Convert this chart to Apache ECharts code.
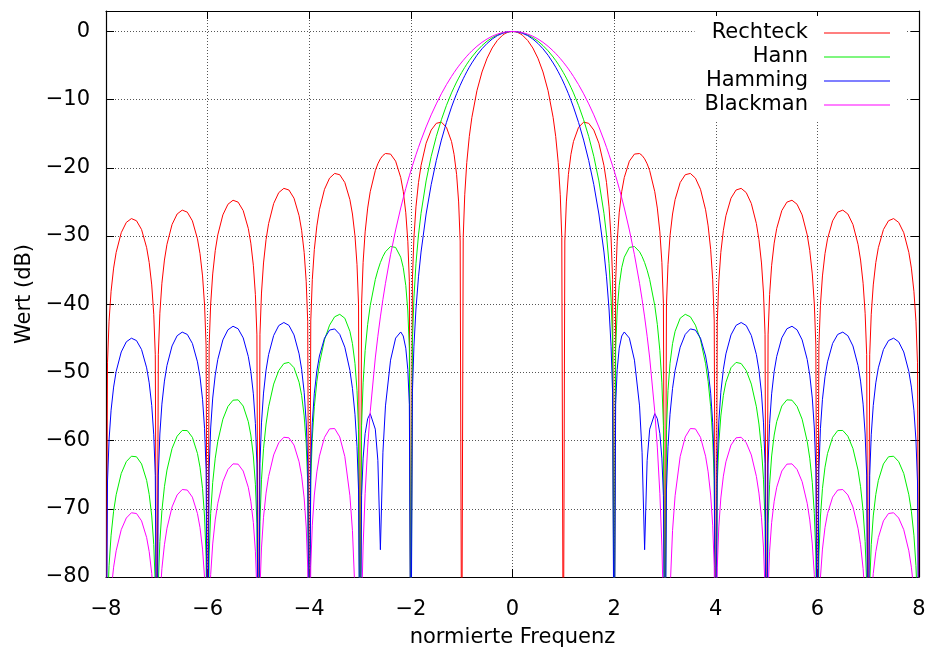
<!DOCTYPE html>
<html><head><meta charset="utf-8">
<script src="https://cdn.jsdelivr.net/npm/echarts@6/dist/echarts.min.js"></script>
<style>html,body{margin:0;padding:0;background:#fff}#c{width:930px;height:653px}</style>
</head><body><div id="c"></div>
<script>
// normalized frequency grid
const freq = [
 -8,
 -7.97,-7.94,-7.9,-7.85,-7.8,-7.7,-7.6,-7.5,-7.4,-7.3,-7.2,-7.15,-7.1,-7.06,-7.03,-7,
 -6.97,-6.94,-6.9,-6.85,-6.8,-6.7,-6.6,-6.5,-6.4,-6.3,-6.2,-6.15,-6.1,-6.06,-6.03,-6,
 -5.97,-5.94,-5.9,-5.85,-5.8,-5.7,-5.6,-5.5,-5.4,-5.3,-5.2,-5.15,-5.1,-5.06,-5.03,-5,
 -4.97,-4.94,-4.9,-4.85,-4.8,-4.7,-4.6,-4.5,-4.4,-4.3,-4.2,-4.15,-4.1,-4.06,-4.03,-4,
 -3.97,-3.94,-3.9,-3.85,-3.8,-3.7,-3.6,-3.5,-3.4,-3.3,-3.2,-3.15,-3.1,-3.06,-3.03,-3,
 -2.97,-2.94,-2.9,-2.85,-2.8,-2.7,-2.65,-2.6,-2.55,-2.5,-2.4,-2.3,-2.2,-2.15,-2.1,-2.06,-2.03,-2,
 -1.97,-1.94,-1.9,-1.85,-1.8,-1.7,-1.6,-1.5,-1.4,-1.3,-1.2,-1.15,-1.1,-1.06,-1.03,-1,
 -0.97,-0.94,-0.9,-0.85,-0.8,-0.7,-0.6,-0.5,-0.4,-0.3,-0.2,-0.15,-0.1,-0.06,-0.03,
 0,
 0.03,0.06,0.1,0.15,0.2,0.3,0.4,0.5,0.6,0.7,0.8,0.85,0.9,0.94,0.97,
 1,1.03,1.06,1.1,1.15,1.2,1.3,1.4,1.5,1.6,1.7,1.8,1.85,1.9,1.94,1.97,
 2,2.03,2.06,2.1,2.15,2.2,2.3,2.4,2.5,2.55,2.6,2.65,2.7,2.8,2.85,2.9,2.94,2.97,
 3,3.03,3.06,3.1,3.15,3.2,3.3,3.4,3.5,3.6,3.7,3.8,3.85,3.9,3.94,3.97,
 4,4.03,4.06,4.1,4.15,4.2,4.3,4.4,4.5,4.6,4.7,4.8,4.85,4.9,4.94,4.97,
 5,5.03,5.06,5.1,5.15,5.2,5.3,5.4,5.5,5.6,5.7,5.8,5.85,5.9,5.94,5.97,
 6,6.03,6.06,6.1,6.15,6.2,6.3,6.4,6.5,6.6,6.7,6.8,6.85,6.9,6.94,6.97,
 7,7.03,7.06,7.1,7.15,7.2,7.3,7.4,7.5,7.6,7.7,7.8,7.85,7.9,7.94,7.97,
 8
];

// values in dB (nulls below the visible range are given as -100)
const rechteck = [
 -100,
 -48.50,-42.49,-38.10,-34.70,-32.40,-29.51,-28.00,-27.44,-27.76,-29.05,-31.71,-33.89,-37.17,-41.47,-47.41,-100,
 -47.34,-41.32,-36.92,-33.52,-31.21,-28.31,-26.77,-26.20,-26.50,-27.77,-30.41,-32.58,-35.85,-40.14,-46.08,-100,
 -45.99,-39.97,-35.56,-32.15,-29.83,-26.90,-25.34,-24.75,-25.03,-26.27,-28.88,-31.04,-34.29,-38.57,-44.50,-100,
 -44.40,-38.36,-33.95,-30.52,-28.18,-25.23,-23.63,-23.01,-23.25,-24.45,-27.02,-29.16,-32.40,-36.66,-42.58,-100,
 -42.45,-36.40,-31.96,-28.51,-26.15,-23.15,-21.51,-20.82,-21.01,-22.15,-24.66,-26.77,-29.97,-34.20,-40.10,-100,
 -39.93,-33.86,-29.39,-25.90,-23.50,-20.41,-19.41,-18.68,-18.18,-17.90,-17.98,-19.02,-21.41,-23.45,-26.59,-30.77,-36.62,-100,
 -36.36,-30.25,-25.72,-22.15,-19.66,-16.39,-14.46,-13.47,-13.30,-14.06,-16.14,-18.02,-20.97,-25.00,-30.73,-100,
 -30.21,-23.95,-19.23,-15.39,-12.62,-8.69,-5.94,-3.92,-2.42,-1.33,-0.58,-0.32,-0.14,-0.05,-0.01,
 0,
 -0.01,-0.05,-0.14,-0.32,-0.58,-1.33,-2.42,-3.92,-5.94,-8.69,-12.62,-15.39,-19.23,-23.95,-30.21,
 -100,-30.73,-25.00,-20.97,-18.02,-16.14,-14.06,-13.30,-13.47,-14.46,-16.39,-19.66,-22.15,-25.72,-30.25,-36.36,
 -100,-36.62,-30.77,-26.59,-23.45,-21.41,-19.02,-17.98,-17.90,-18.18,-18.68,-19.41,-20.41,-23.50,-25.90,-29.39,-33.86,-39.93,
 -100,-40.10,-34.20,-29.97,-26.77,-24.66,-22.15,-21.01,-20.82,-21.51,-23.15,-26.15,-28.51,-31.96,-36.40,-42.45,
 -100,-42.58,-36.66,-32.40,-29.16,-27.02,-24.45,-23.25,-23.01,-23.63,-25.23,-28.18,-30.52,-33.95,-38.36,-44.40,
 -100,-44.50,-38.57,-34.29,-31.04,-28.88,-26.27,-25.03,-24.75,-25.34,-26.90,-29.83,-32.15,-35.56,-39.97,-45.99,
 -100,-46.08,-40.14,-35.85,-32.58,-30.41,-27.77,-26.50,-26.20,-26.77,-28.31,-31.21,-33.52,-36.92,-41.32,-47.34,
 -100,-47.41,-41.47,-37.17,-33.89,-31.71,-29.05,-27.76,-27.44,-28.00,-29.51,-32.40,-34.70,-38.10,-42.49,-48.50,
 -100
];

const hann = [
 -100,
 -84.42,-78.34,-73.87,-70.35,-67.94,-64.82,-63.08,-62.29,-62.37,-63.42,-65.83,-67.89,-71.05,-75.25,-81.11,-100,
 -80.89,-74.79,-70.29,-66.76,-64.32,-61.16,-59.35,-58.51,-58.53,-59.52,-61.88,-63.90,-67.03,-71.20,-77.05,-100,
 -76.78,-70.67,-66.14,-62.58,-60.11,-56.86,-54.99,-54.07,-54.02,-54.93,-57.21,-59.18,-62.25,-66.39,-72.21,-100,
 -71.90,-65.75,-61.19,-57.57,-55.04,-51.71,-49.72,-48.70,-48.53,-49.31,-51.44,-53.36,-56.38,-60.46,-66.24,-100,
 -65.83,-59.64,-55.01,-51.32,-48.72,-45.22,-43.07,-41.84,-41.48,-42.05,-43.97,-45.78,-48.67,-52.65,-58.36,-100,
 -57.80,-51.53,-46.79,-42.95,-40.20,-36.38,-35.01,-33.89,-32.99,-32.30,-31.53,-31.67,-33.10,-34.63,-37.25,-40.99,-46.51,-100,
 -45.55,-39.08,-34.05,-29.84,-26.67,-21.92,-18.32,-15.41,-12.95,-10.84,-9.01,-8.19,-7.41,-6.84,-6.42,-6.02,
 -5.64,-5.27,-4.80,-4.26,-3.75,-2.84,-2.07,-1.42,-0.91,-0.51,-0.22,-0.13,-0.06,-0.02,-0.01,
 0,
 -0.01,-0.02,-0.06,-0.13,-0.22,-0.51,-0.91,-1.42,-2.07,-2.84,-3.75,-4.26,-4.80,-5.27,-5.64,
 -6.02,-6.42,-6.84,-7.41,-8.19,-9.01,-10.84,-12.95,-15.41,-18.32,-21.92,-26.67,-29.84,-34.05,-39.08,-45.55,
 -100,-46.51,-40.99,-37.25,-34.63,-33.10,-31.67,-31.53,-32.30,-32.99,-33.89,-35.01,-36.38,-40.20,-42.95,-46.79,-51.53,-57.80,
 -100,-58.36,-52.65,-48.67,-45.78,-43.97,-42.05,-41.48,-41.84,-43.07,-45.22,-48.72,-51.32,-55.01,-59.64,-65.83,
 -100,-66.24,-60.46,-56.38,-53.36,-51.44,-49.31,-48.53,-48.70,-49.72,-51.71,-55.04,-57.57,-61.19,-65.75,-71.90,
 -100,-72.21,-66.39,-62.25,-59.18,-57.21,-54.93,-54.02,-54.07,-54.99,-56.86,-60.11,-62.58,-66.14,-70.67,-76.78,
 -100,-77.05,-71.20,-67.03,-63.90,-61.88,-59.52,-58.53,-58.51,-59.35,-61.16,-64.32,-66.76,-70.29,-74.79,-80.89,
 -100,-81.11,-75.25,-71.05,-67.89,-65.83,-63.42,-62.37,-62.29,-63.08,-64.82,-67.94,-70.35,-73.87,-78.34,-84.42,
 -100
];

const hamming = [
 -100,
 -65.92,-59.92,-55.54,-52.15,-49.86,-47.00,-45.51,-44.98,-45.33,-46.65,-49.33,-51.53,-54.83,-59.15,-65.09,-100,
 -65.05,-59.03,-54.65,-51.27,-48.98,-46.12,-44.62,-44.09,-44.43,-45.75,-48.45,-50.64,-53.94,-58.25,-64.21,-100,
 -64.15,-58.15,-53.76,-50.39,-48.10,-45.23,-43.75,-43.23,-43.60,-44.93,-47.65,-49.84,-53.14,-57.47,-63.43,-100,
 -63.40,-57.40,-53.03,-49.66,-47.39,-44.58,-43.13,-42.68,-43.10,-44.50,-47.28,-49.54,-52.91,-57.28,-63.28,-100,
 -63.32,-57.36,-53.05,-49.77,-47.59,-44.98,-43.79,-43.62,-44.42,-46.30,-49.70,-52.34,-56.13,-60.89,-67.23,-100,
 -68.06,-62.57,-58.97,-56.79,-56.04,-58.32,-62.89,-76.00,-61.70,-54.91,-48.20,-44.97,-44.07,-44.66,-46.45,-49.60,-54.70,-100,
 -52.98,-46.16,-40.70,-35.98,-32.35,-26.77,-22.46,-18.93,-15.93,-13.34,-11.09,-10.08,-9.13,-8.42,-7.91,-7.41,
 -6.94,-6.49,-5.91,-5.24,-4.62,-3.49,-2.54,-1.75,-1.11,-0.62,-0.28,-0.16,-0.07,-0.03,-0.01,
 0,
 -0.01,-0.03,-0.07,-0.16,-0.28,-0.62,-1.11,-1.75,-2.54,-3.49,-4.62,-5.24,-5.91,-6.49,-6.94,
 -7.41,-7.91,-8.42,-9.13,-10.08,-11.09,-13.34,-15.93,-18.93,-22.46,-26.77,-32.35,-35.98,-40.70,-46.16,-52.98,
 -100,-54.70,-49.60,-46.45,-44.66,-44.07,-44.97,-48.20,-54.91,-61.70,-76.00,-62.89,-58.32,-56.04,-56.79,-58.97,-62.57,-68.06,
 -100,-67.23,-60.89,-56.13,-52.34,-49.70,-46.30,-44.42,-43.62,-43.79,-44.98,-47.59,-49.77,-53.05,-57.36,-63.32,
 -100,-63.28,-57.28,-52.91,-49.54,-47.28,-44.50,-43.10,-42.68,-43.13,-44.58,-47.39,-49.66,-53.03,-57.40,-63.40,
 -100,-63.43,-57.47,-53.14,-49.84,-47.65,-44.93,-43.60,-43.23,-43.75,-45.23,-48.10,-50.39,-53.76,-58.15,-64.15,
 -100,-64.21,-58.25,-53.94,-50.64,-48.45,-45.75,-44.43,-44.09,-44.62,-46.12,-48.98,-51.27,-54.65,-59.03,-65.05,
 -100,-65.09,-59.15,-54.83,-51.53,-49.33,-46.65,-45.33,-44.98,-45.51,-47.00,-49.86,-52.15,-55.54,-59.92,-65.92,
 -100
];

const blackman = [
 -100,
 -92.60,-86.53,-82.06,-78.56,-76.16,-73.06,-71.35,-70.58,-70.69,-71.77,-74.22,-76.29,-79.47,-83.68,-89.50,-100,
 -89.30,-83.27,-78.78,-75.27,-72.85,-69.73,-67.97,-67.17,-67.25,-68.29,-70.70,-72.75,-75.91,-80.10,-85.97,-100,
 -85.75,-79.66,-75.15,-71.63,-69.19,-66.02,-64.23,-63.41,-63.45,-64.46,-66.84,-68.89,-72.02,-76.21,-82.08,-100,
 -81.84,-75.74,-71.24,-67.70,-65.26,-62.10,-60.31,-59.51,-59.59,-60.65,-63.11,-65.21,-68.41,-72.66,-78.57,-100,
 -78.44,-72.40,-67.98,-64.58,-62.29,-59.52,-58.28,-58.23,-59.46,-62.33,-68.09,-73.18,-82.17,-105.00,-96.30,-100,
 -84.60,-75.45,-67.73,-60.95,-55.76,-47.88,-44.70,-41.86,-39.28,-36.93,-32.74,-29.11,-25.89,-24.41,-23.02,-21.95,-21.17,-20.42,
 -19.70,-19.00,-18.08,-16.99,-15.94,-14.00,-12.23,-10.62,-9.14,-7.80,-6.59,-6.03,-5.49,-5.09,-4.79,-4.51,
 -4.24,-3.97,-3.63,-3.23,-2.85,-2.17,-1.59,-1.10,-0.70,-0.39,-0.17,-0.10,-0.04,-0.02,0,
 0,
 0,-0.02,-0.04,-0.10,-0.17,-0.39,-0.70,-1.10,-1.59,-2.17,-2.85,-3.23,-3.63,-3.97,-4.24,
 -4.51,-4.79,-5.09,-5.49,-6.03,-6.59,-7.80,-9.14,-10.62,-12.23,-14.00,-15.94,-16.99,-18.08,-19.00,-19.70,
 -20.42,-21.17,-21.95,-23.02,-24.41,-25.89,-29.11,-32.74,-36.93,-39.28,-41.86,-44.70,-47.88,-55.76,-60.95,-67.73,-75.45,-84.60,
 -100,-96.30,-105.00,-82.17,-73.18,-68.09,-62.33,-59.46,-58.23,-58.28,-59.52,-62.29,-64.58,-67.98,-72.40,-78.44,
 -100,-78.57,-72.66,-68.41,-65.21,-63.11,-60.65,-59.59,-59.51,-60.31,-62.10,-65.26,-67.70,-71.24,-75.74,-81.84,
 -100,-82.08,-76.21,-72.02,-68.89,-66.84,-64.46,-63.45,-63.41,-64.23,-66.02,-69.19,-71.63,-75.15,-79.66,-85.75,
 -100,-85.97,-80.10,-75.91,-72.75,-70.70,-68.29,-67.25,-67.17,-67.97,-69.73,-72.85,-75.27,-78.78,-83.27,-89.30,
 -100,-89.50,-83.68,-79.47,-76.29,-74.22,-71.77,-70.69,-70.58,-71.35,-73.06,-76.16,-78.56,-82.06,-86.53,-92.60,
 -100
];

const seriesNames = ['Rechteck', 'Hann', 'Hamming', 'Blackman'];
const seriesValues = [rechteck, hann, hamming, blackman];
const seriesColors = ['#ff0000', '#00ee00', '#0000ff', '#ff00ff'];
const xLabelText = 'normierte Frequenz';
const yLabelText = 'Wert (dB)';

const FONT = 'DejaVu Sans';
const FS = 21;
function fmt(v) {
  return v < 0 ? '\u2212' + (-v) : String(v);
}
function fmtY(v) {
  if (v % 10 !== 0) return '';
  return v < 0 ? '\u2212' + (-v) : String(v);
}
const frame = { show: true, onZero: false, lineStyle: { color: '#000', width: 1.2 } };
const ticks = { show: true, inside: true, length: 8, lineStyle: { color: '#000', width: 1 } };
const grid = { show: true, lineStyle: { color: '#555', width: 1, type: [1, 2] } };
const lbl = { fontFamily: FONT, fontSize: FS, color: '#000' };

const chart = echarts.init(document.getElementById('c'), null, { renderer: 'canvas' });
chart.setOption({
  animation: false,
  backgroundColor: '#fff',
  grid: { left: 106, right: 11, top: 11, bottom: 75 },
  xAxis: [
    { type: 'value', min: -8, max: 8, interval: 2, position: 'bottom',
      name: xLabelText, nameLocation: 'middle', nameGap: 50, nameTextStyle: lbl,
      axisLine: frame, axisTick: ticks, splitLine: grid,
      axisLabel: Object.assign({ formatter: fmt, margin: 22 }, lbl) },
    { type: 'value', min: -8, max: 8, interval: 2, position: 'top',
      axisLine: frame, axisTick: ticks, splitLine: { show: false }, axisLabel: { show: false } }
  ],
  yAxis: [
    { type: 'value', min: -80, max: 3, interval: 10, position: 'left',
      name: yLabelText, nameLocation: 'middle', nameGap: 70, nameTextStyle: lbl,
      axisLine: frame, axisTick: ticks, splitLine: grid,
      axisLabel: Object.assign({ formatter: fmtY, margin: 16 }, lbl) },
    { type: 'value', min: -80, max: 3, interval: 10, position: 'right',
      axisLine: frame, axisTick: ticks, splitLine: { show: false }, axisLabel: { show: false } }
  ],
  legend: {
    data: seriesNames, orient: 'vertical', right: 25, top: 16, align: 'right',
    itemGap: 0, itemWidth: 66, itemHeight: 1, icon: 'rect',
    padding: [5, 15, 5, 10], backgroundColor: '#fff', selectedMode: false,
    textStyle: { fontFamily: FONT, fontSize: FS, color: '#000', lineHeight: 24, padding: [0, 11, 0, 0] }
  },
  series: seriesNames.map((n, k) => ({
    name: n, type: 'line', xAxisIndex: 0, yAxisIndex: 0,
    data: freq.map((x, i) => [x, seriesValues[k][i]]),
    symbol: 'none', showSymbol: false, clip: true,
    lineStyle: { color: seriesColors[k], width: 1 },
    itemStyle: { color: seriesColors[k] },
    emphasis: { disabled: true }
  }))
});
</script>
</body></html>
